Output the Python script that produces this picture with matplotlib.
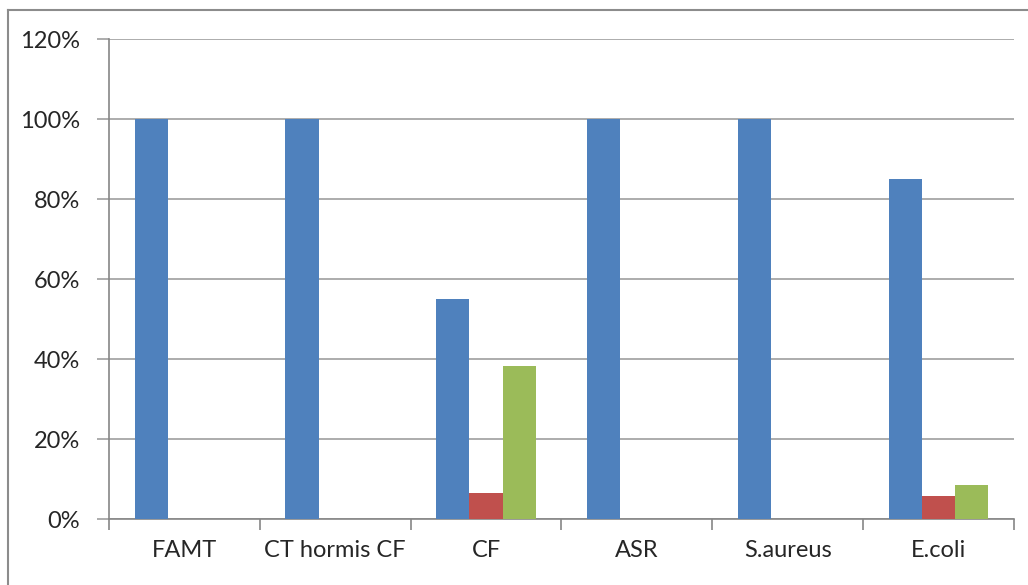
import matplotlib.pyplot as plt
import numpy as np
from matplotlib.lines import Line2D
from matplotlib.ticker import FuncFormatter

categories = ["FAMT", "CT hormis CF", "CF", "ASR", "S.aureus", "E.coli"]
serie_bleue = [100, 100, 55, 100, 100, 85]
serie_rouge = [0, 0, 6.5, 0, 0, 5.7]
serie_verte = [0, 0, 38.2, 0, 0, 8.6]

couleurs = ["#4F81BD", "#C0504D", "#9BBB59"]

plt.rcParams["font.family"] = ["Lato", "DejaVu Sans"]

W, H = 1028, 585
fig = plt.figure(figsize=(W / 100, H / 100), dpi=100)
ax = fig.add_axes([109 / W, (H - 519) / H, (1014 - 109) / W, (519 - 39) / H])

x = np.arange(len(categories))
largeur = 0.22
for i, (vals, c) in enumerate(zip([serie_bleue, serie_rouge, serie_verte], couleurs)):
    ax.bar(x + (i - 1) * largeur, vals, width=largeur, color=c, zorder=3)

ax.set_xlim(-0.5, len(categories) - 0.5)
ax.set_ylim(0, 120)
ax.set_yticks(np.arange(0, 121, 20))
ax.yaxis.set_major_formatter(FuncFormatter(lambda v, _: f"{v:.0f}%"))
ax.grid(axis="y", color="#A6A6A6", lw=1.3, zorder=0)

# category labels centred, ticks on the boundaries between groups
ax.set_xticks(x)
ax.set_xticklabels(categories)
ax.set_xticks(np.arange(-0.5, len(categories)), minor=True)
ax.tick_params(axis="x", which="major", length=0, pad=15, labelsize=17, labelcolor="#262626")
ax.tick_params(axis="x", which="minor", length=8, color="#868686", width=1.2)
ax.tick_params(axis="y", length=9, color="#A6A6A6", width=1.3, pad=12, labelsize=17, labelcolor="#262626")

for s in ["top", "right"]:
    ax.spines[s].set_visible(False)
for s in ["left", "bottom"]:
    ax.spines[s].set_color("#868686")
    ax.spines[s].set_linewidth(1.2)

# outer frame of the chart area
fig.add_artist(Line2D([8 / W, 8 / W], [0, 1 - 10 / H], transform=fig.transFigure, color="#8C8C8C", lw=1.5))
fig.add_artist(Line2D([8 / W, 1], [1 - 10 / H, 1 - 10 / H], transform=fig.transFigure, color="#8C8C8C", lw=1.5))

fig.savefig("out.png", dpi=100)
